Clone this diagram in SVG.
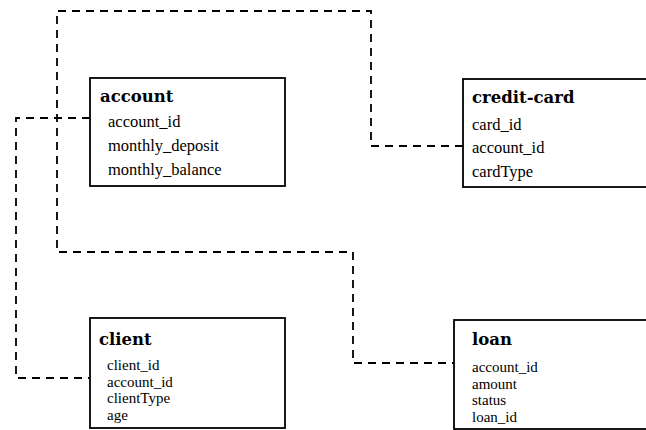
<svg xmlns="http://www.w3.org/2000/svg" width="646" height="430" viewBox="0 0 646 430">
  <style>
    .box { fill: #fff; stroke: #000; stroke-width: 1.8; }
    .title { font-family: "DejaVu Serif", "Liberation Serif", serif; font-weight: bold; font-size: 16.5px; fill: #000; }
    .field { font-family: "Liberation Serif", serif; font-size: 16.5px; fill: #000; }
    .tight { font-size: 15px; }
    .link { fill: none; stroke: #000; stroke-width: 1.8; stroke-dasharray: 8 6; }
  </style>
  <rect width="646" height="430" fill="#fff"/>

  <!-- foreign-key links -->
  <g id="connectors">
    <path class="link" d="M 463 146 H 371 V 11 H 57 V 252 H 353 V 363 H 454"/>
    <path class="link" d="M 90 118 H 16 V 378 H 90"/>
  </g>

  <g id="account">
    <rect class="box" x="90" y="78" width="195" height="108"/>
    <text class="title" x="100" y="102">account</text>
    <text class="field" x="108" y="127">account_id</text>
    <text class="field" x="108" y="151">monthly_deposit</text>
    <text class="field" x="108" y="175">monthly_balance</text>
  </g>

  <g id="credit-card">
    <rect class="box" x="463" y="79" width="200" height="108"/>
    <text class="title" x="472" y="103">credit-card</text>
    <text class="field" x="472" y="130">card_id</text>
    <text class="field" x="472" y="153">account_id</text>
    <text class="field" x="472" y="177">cardType</text>
  </g>

  <g id="client">
    <rect class="box" x="90" y="318" width="195" height="110"/>
    <text class="title" x="99" y="345">client</text>
    <text class="field tight" x="107" y="370">client_id</text>
    <text class="field tight" x="107" y="386.5">account_id</text>
    <text class="field tight" x="107" y="403">clientType</text>
    <text class="field tight" x="107" y="419.5">age</text>
  </g>

  <g id="loan">
    <rect class="box" x="454" y="320" width="210" height="109"/>
    <text class="title" x="472" y="345">loan</text>
    <text class="field tight" x="472" y="372">account_id</text>
    <text class="field tight" x="472" y="388.5">amount</text>
    <text class="field tight" x="472" y="405">status</text>
    <text class="field tight" x="472" y="421.5">loan_id</text>
  </g>
</svg>
